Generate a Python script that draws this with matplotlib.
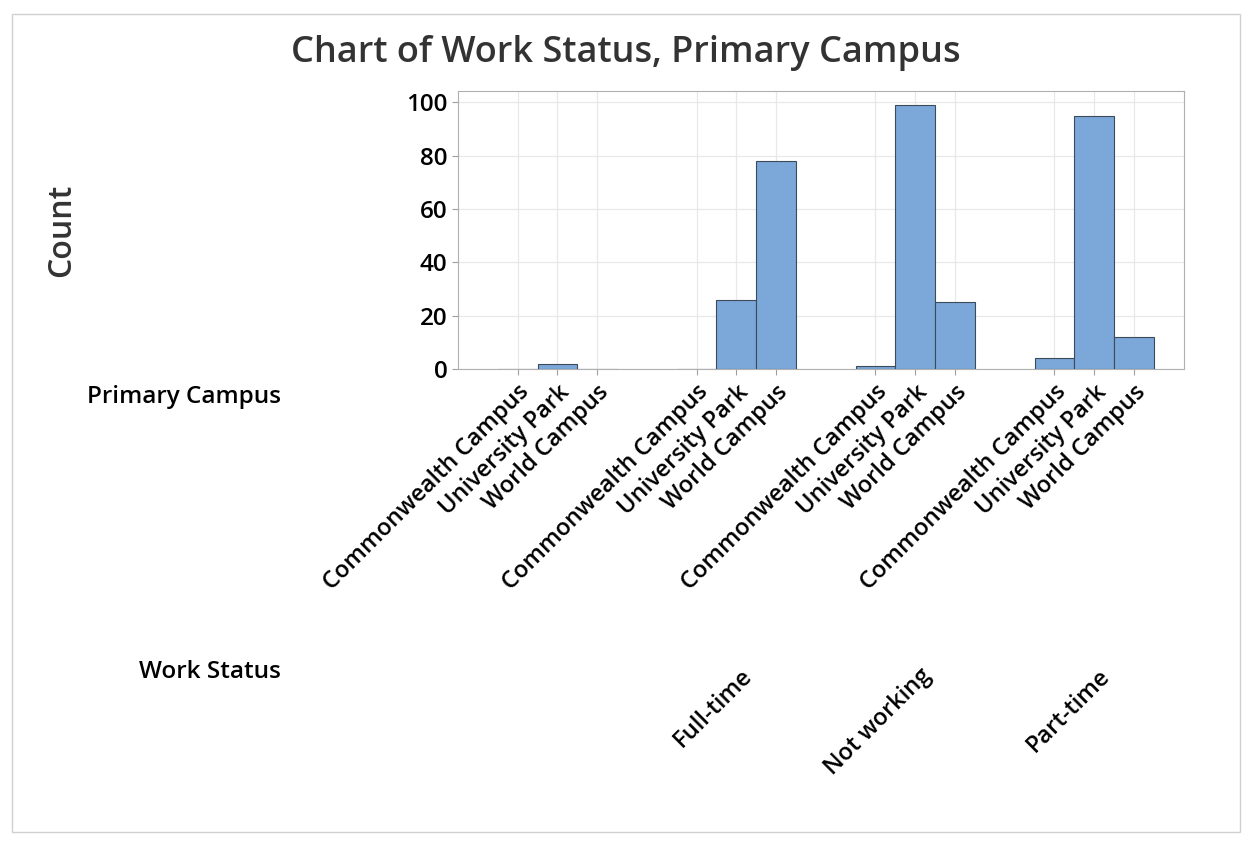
import matplotlib.pyplot as plt
import matplotlib.transforms as mtransforms
from matplotlib.patches import Rectangle

plt.rcParams['font.family'] = ['Open Sans', 'DejaVu Sans']
plt.rcParams['font.weight'] = 'semibold'

work_status = ["", "Full-time", "Not working", "Part-time"]
campuses = ["Commonwealth Campus", "University Park", "World Campus"]
counts = [
    [0, 2, 0],
    [0, 26, 78],
    [1, 99, 25],
    [4, 95, 12],
]

group_step = 4.5
xs = []
heights = []
labels = []
for g, row in enumerate(counts):
    for c, v in enumerate(row):
        xs.append(g * group_step + c)
        heights.append(v)
        labels.append(campuses[c])

fig = plt.figure(figsize=(12.55, 8.44), dpi=100)
fig.patches.append(Rectangle((12 / 1255, 1 - 832 / 844), 1228 / 1255, 818 / 844,
                             transform=fig.transFigure, fill=False,
                             edgecolor='#d0d0d0', linewidth=1))
ax = fig.add_axes([458 / 1255, 1 - 369 / 844, 726 / 1255, 278 / 844])

ax.bar(xs, heights, width=1.0, color='#7ba7d9', edgecolor='#3c4a5a', linewidth=0.8, zorder=3)

ax.set_xlim(-1.5, 3 * group_step + 2 + 1.26)
ax.set_ylim(0, 104.3)
ax.set_yticks([0, 20, 40, 60, 80, 100])
ax.set_xticks(xs)
ax.set_xticklabels(labels, rotation=45, ha='right', rotation_mode='anchor', fontsize=17)
ax.tick_params(axis='y', labelsize=17.5, length=4, color='#a0a0a0')
ax.tick_params(axis='x', length=4, color='#a0a0a0', pad=4)
ax.grid(True, color='#e8e8e8', linewidth=0.9, zorder=0)
for s in ax.spines.values():
    s.set_color('#b0b0b0')

# second-level labels (Work Status)
trans = mtransforms.blended_transform_factory(ax.transData, fig.transFigure)
for g, name in enumerate(work_status):
    if name:
        ax.text(g * group_step + 1 + 0.1, 1 - 664 / 844, name, transform=trans,
                rotation=45, ha='right', va='top', rotation_mode='anchor', fontsize=17)

fig.text(281 / 1255, 1 - 397 / 844, "Primary Campus", ha='right', va='center', fontsize=17.5)
fig.text(281 / 1255, 1 - 672 / 844, "Work Status", ha='right', va='center', fontsize=17.5)
fig.text(62 / 1255, 1 - 230 / 844, "Count", rotation=90, ha='center', va='center',
         fontsize=23, color='#333333')
fig.text(626 / 1255, 1 - 53 / 844, "Chart of Work Status, Primary Campus", ha='center',
         va='center', fontsize=26, color='#333333')

fig.savefig("out.png", dpi=100)
